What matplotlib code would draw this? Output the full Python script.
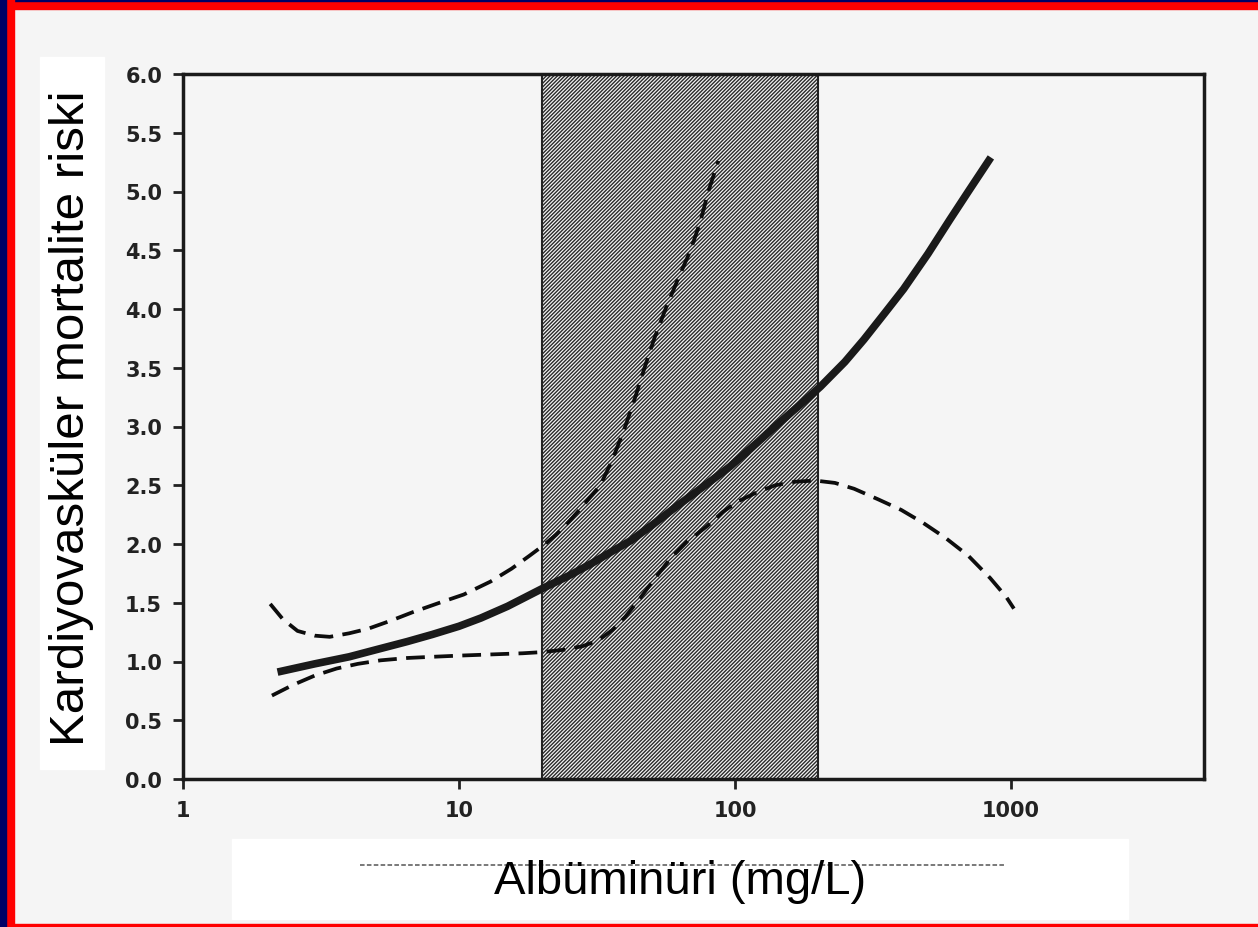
import matplotlib
matplotlib.use("Agg")
import matplotlib.pyplot as plt
from matplotlib.patches import Rectangle

# data
risk_x = [2.2, 3.0, 4.0, 5.0, 6.5, 8.0, 10, 12, 15, 20, 25, 30, 36, 42, 50, 63, 80, 96,
          120, 146, 175, 204, 250, 293, 350, 408, 500, 600, 700, 845]
risk_y = [0.91, 0.98, 1.04, 1.10, 1.17, 1.23, 1.30, 1.37, 1.47, 1.62, 1.73, 1.83, 1.94,
          2.03, 2.16, 2.34, 2.52, 2.66, 2.86, 3.04, 3.20, 3.34, 3.55, 3.74, 3.97, 4.17,
          4.47, 4.76, 5.00, 5.29]

upper_x = [2.07, 2.3, 2.6, 3.0, 3.4, 4.0, 4.7, 5.7, 6.8, 8.5, 10.4, 13, 15.5, 18, 20,
           22.5, 25, 28, 32.5, 36, 40, 43.5, 47, 51, 56, 62, 69, 75, 80, 87]
upper_y = [1.49, 1.36, 1.26, 1.22, 1.21, 1.24, 1.28, 1.35, 1.42, 1.50, 1.57, 1.68, 1.79,
           1.90, 1.98, 2.08, 2.19, 2.32, 2.50, 2.72, 3.00, 3.25, 3.50, 3.75, 4.00, 4.25,
           4.50, 4.75, 5.00, 5.26]

lower_x = [2.1, 2.5, 3.0, 3.6, 4.3, 5.2, 6.5, 8, 10, 13, 17, 20, 24, 28, 32, 36, 40, 45,
           51, 58, 67, 79, 90, 102, 120, 140, 165, 195, 230, 270, 330, 400, 480, 580,
           700, 840, 960, 1024]
lower_y = [0.71, 0.80, 0.88, 0.94, 0.98, 1.01, 1.03, 1.04, 1.05, 1.06, 1.07, 1.08, 1.10,
           1.13, 1.18, 1.27, 1.38, 1.53, 1.70, 1.87, 2.02, 2.15, 2.27, 2.36, 2.44, 2.50,
           2.53, 2.54, 2.52, 2.47, 2.38, 2.29, 2.18, 2.05, 1.90, 1.71, 1.55, 1.45]

band = (20, 200)
xticks = [1, 10, 100, 1000]
yticks = [0.0, 0.5, 1.0, 1.5, 2.0, 2.5, 3.0, 3.5, 4.0, 4.5, 5.0, 5.5, 6.0]

W, H = 1258, 928
bg = "#f5f5f5"

plt.rcParams["font.family"] = ["Liberation Sans", "DejaVu Sans"]
plt.rcParams["hatch.linewidth"] = 1.0

fig = plt.figure(figsize=(W / 100, H / 100), dpi=100)
fig.patch.set_facecolor(bg)


def frame(x, y, w, h, c):
    # rectangle given in pixel units from the top-left corner
    fig.patches.append(Rectangle((x / W, 1 - (y + h) / H), w / W, h / H,
                                 transform=fig.transFigure, color=c, zorder=0))


# red / navy frame
frame(0, 0, W, 10, "red")
frame(0, 0, W, 2, "#000066")
frame(0, 925, W, 3, "red")
frame(0, 0, 14, H, "red")
frame(0, 0, 6, H, "#000066")

# white label boxes
frame(40, 58, 64, 712, "white")
frame(232, 840, 896, 80, "white")
fig.lines.append(plt.Line2D([360 / W, 1005 / W], [1 - 866 / H, 1 - 866 / H],
                            transform=fig.transFigure, color="#555555", lw=1.1,
                            dashes=(3, 1.5)))

ax = fig.add_axes([183 / W, 1 - 780 / H, (1204 - 183) / W, (780 - 75) / H])
ax.set_facecolor(bg)
ax.set_xscale("log")
ax.set_xlim(1, 5000)
ax.set_ylim(0, 6)

ax.axvspan(band[0], band[1], facecolor="#f4f4f4", edgecolor="#2a2a2a",
           hatch="/////////", linewidth=0, zorder=1)
ax.axvline(band[0], color="#222222", lw=1.5, zorder=1.5)
ax.axvline(band[1], color="#222222", lw=1.5, zorder=1.5)

ax.plot(risk_x, risk_y, color="#1a1a1a", lw=5.5, solid_capstyle="butt", zorder=3)
ax.plot(upper_x, upper_y, color="#0d0d0d", lw=2.7, dashes=(5, 2.5), zorder=3)
ax.plot(lower_x, lower_y, color="#0d0d0d", lw=2.7, dashes=(5, 2.5), zorder=3)

ax.set_xticks(xticks)
ax.set_xticklabels([str(t) for t in xticks])
ax.minorticks_off()
ax.set_yticks(yticks)
ax.set_yticklabels([f"{t:.1f}" for t in yticks])
ax.tick_params(direction="out", length=7, width=2, pad=8, colors="#222222")
for lab in ax.get_xticklabels() + ax.get_yticklabels():
    lab.set_fontfamily("DejaVu Sans")
    lab.set_fontweight("bold")
    lab.set_fontsize(15)
for s in ax.spines.values():
    s.set_linewidth(2.5)
    s.set_color("#1a1a1a")
    s.set_zorder(4)

fig.text(72 / W, 1 - 418 / H, "Kardiyovasküler mortalite riski", rotation=90,
         ha="center", va="center", fontsize=35.5, color="black")
fig.text(680 / W, 1 - 882 / H, "Albüminüri (mg/L)",
         ha="center", va="center", fontsize=34, color="black")

fig.savefig("out.png", dpi=100, facecolor=fig.get_facecolor())
